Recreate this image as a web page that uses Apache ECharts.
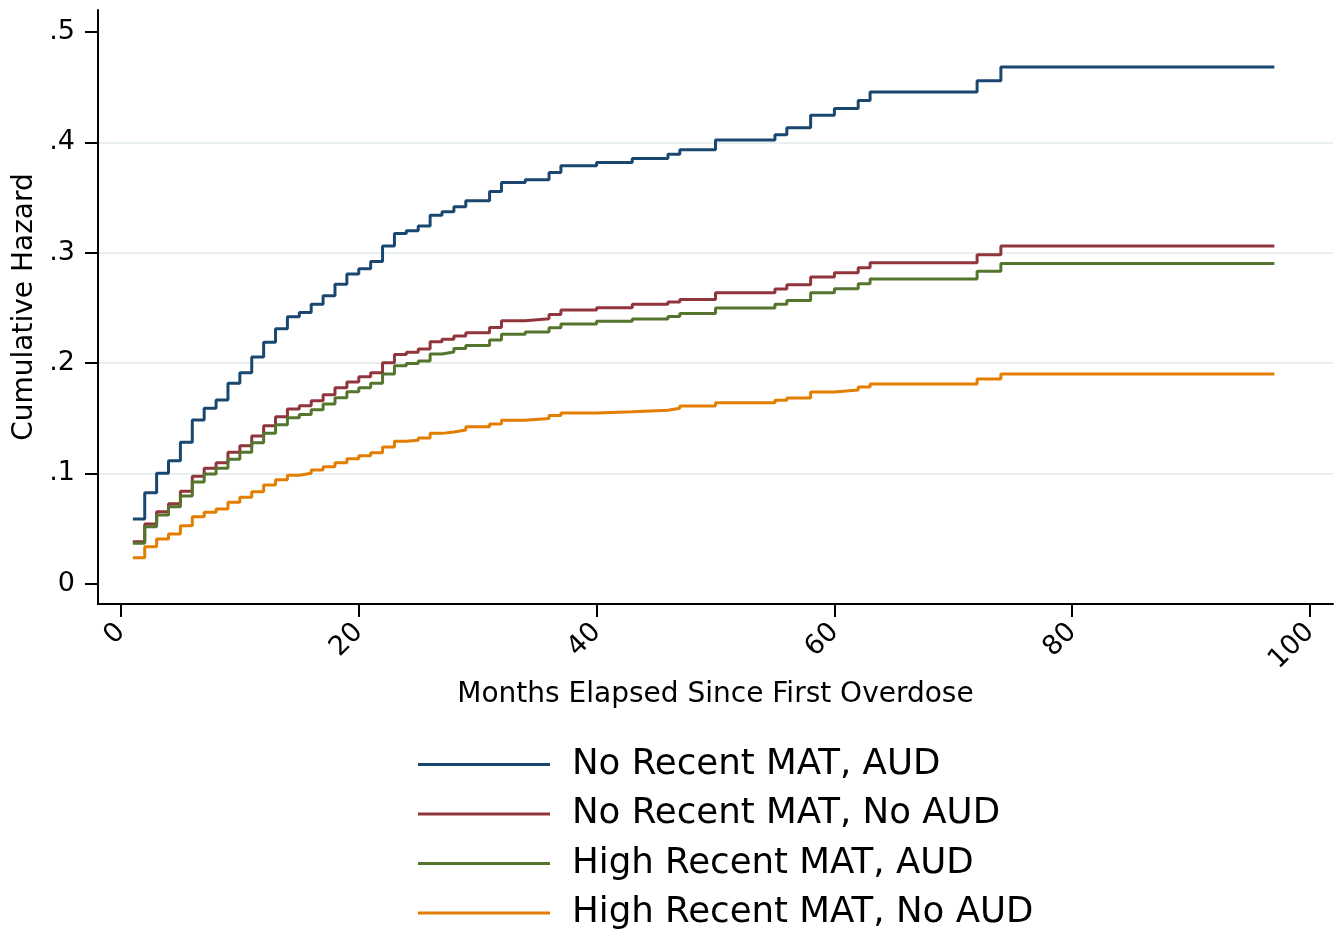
<!DOCTYPE html>
<html>
<head>
<meta charset="utf-8">
<script src="https://cdn.jsdelivr.net/npm/echarts@6/dist/echarts.min.js"></script>
<style>
html,body{margin:0;padding:0;background:#fff;}
#chart{width:1339px;height:931px;}
</style>
</head>
<body>
<div id="chart"></div>
<script>
const months = [1,2,3,4,5,6,7,8,9,10,11,12,13,14,15,16,17,18,19,20,21,22,23,24,25,26,27,28,29,
  31,32,34,36,37,40,43,46,47,50,55,56,58,60,62,63,72,74,97];

const seriesNames = ['No Recent MAT, AUD','No Recent MAT, No AUD','High Recent MAT, AUD','High Recent MAT, No AUD'];

const noMatAud = [0.0587,0.0825,0.1001,0.1115,0.1282,0.1484,0.1590,0.1665,0.1816,0.1912,0.2054,0.2188,0.2311,0.2419,0.2459,0.2534,0.2610,0.2713,0.2806,0.2854,0.2921,0.3060,0.3175,0.3198,0.3241,0.3340,0.3370,0.3416,0.3470,
  0.3555,0.3637,0.3660,0.3727,0.3787,0.3818,0.3854,0.3893,0.3932,0.4020,0.4068,0.4132,0.4246,0.4307,0.4378,0.4455,0.4559,0.4682,
  0.4682];

const noMatNoAud = [0.0381,0.0542,0.0653,0.0726,0.0838,0.0974,0.1046,0.1097,0.1191,0.1251,0.1339,0.1432,0.1514,0.1583,0.1613,0.1658,0.1713,0.1776,0.1828,0.1876,0.1912,0.2003,0.2077,0.2097,0.2127,0.2193,0.2215,0.2245,0.2274,
  0.2323,0.2383,0.2401,0.2441,0.2480,0.2501,0.2532,0.2553,0.2577,0.2637,0.2670,0.2709,0.2780,0.2819,0.2864,0.2909,0.2982,0.3060,
  0.3060];

const highMatAud = [0.0367,0.0517,0.0623,0.0698,0.0795,0.0922,0.0995,0.1046,0.1128,0.1191,0.1278,0.1363,0.1441,0.1505,0.1535,0.1577,0.1629,0.1686,0.1740,0.1776,0.1816,0.1900,0.1975,0.1997,0.2018,0.2082,0.2100,0.2133,0.2160,
  0.2208,0.2260,0.2281,0.2320,0.2353,0.2378,0.2399,0.2423,0.2450,0.2498,0.2534,0.2568,0.2638,0.2674,0.2719,0.2762,0.2831,0.2903,
  0.2903];

const highMatNoAud = [0.0236,0.0336,0.0406,0.0451,0.0526,0.0608,0.0648,0.0678,0.0738,0.0784,0.0834,0.0895,0.0943,0.0983,0.1001,0.1031,0.1061,0.1097,0.1133,0.1160,0.1188,0.1239,0.1291,0.1301,0.1321,0.1363,0.1375,0.1393,0.1423,
  0.1447,0.1481,0.1497,0.1526,0.1547,0.1559,0.1572,0.1590,0.1610,0.1640,0.1662,0.1683,0.1737,0.1755,0.1783,0.1810,0.1855,0.1902,
  0.1902];

const xTicks = [0,20,40,60,80,100];
const yTicks = [0,0.1,0.2,0.3,0.4,0.5];
const colors = ['#1a476f','#90353b','#55752f','#e37e00'];

const allValues = [noMatAud, noMatNoAud, highMatAud, highMatNoAud];
const FONT = 'DejaVu Sans';

const chart = echarts.init(document.getElementById('chart'), null, {renderer:'canvas'});
chart.setOption({
  animation:false,
  backgroundColor:'#ffffff',
  textStyle:{fontFamily:FONT,color:'#000'},
  grid:{left:98,right:6,top:10,bottom:327,containLabel:false,outerBoundsMode:'none'},
  xAxis:{
    type:'value', min:-1.93, max:101.93,
    name:'Months Elapsed Since First Overdose',
    nameLocation:'middle', nameGap:76,
    nameTextStyle:{fontFamily:FONT,fontSize:28,color:'#000'},
    axisLine:{show:true,onZero:false,lineStyle:{color:'#000',width:2}},
    axisTick:{show:true,inside:false,length:13,customValues:xTicks,lineStyle:{color:'#000',width:2}},
    axisLabel:{show:true,customValues:xTicks,rotate:45,margin:24,fontFamily:FONT,fontSize:27,color:'#000'},
    splitLine:{show:false}
  },
  yAxis:{
    type:'value', min:-0.0183, max:0.5199,
    name:'Cumulative Hazard',
    nameLocation:'middle', nameGap:59,
    nameTextStyle:{fontFamily:FONT,fontSize:28,color:'#000'},
    axisLine:{show:true,onZero:false,lineStyle:{color:'#000',width:2}},
    axisTick:{show:true,inside:false,length:13,customValues:yTicks,lineStyle:{color:'#000',width:2}},
    axisLabel:{show:true,customValues:yTicks,margin:23,fontFamily:FONT,fontSize:27,color:'#000',
      formatter:function(v){ return v===0 ? '0' : String(Math.round(v*10)/10).replace(/^0\./,'.'); }},
    splitLine:{show:true,showMinLine:false,showMaxLine:false,lineStyle:{color:'#e8eff1',width:2}}
  },
  legend:{
    orient:'vertical', left:418, top:746.5, height:200, padding:0,
    itemWidth:132, itemHeight:14, itemGap:13.5,
    data:seriesNames.map(function(n,i){return {name:n, icon:'path://M0,6 L132,6 L132,9 L0,9 Z', itemStyle:{color:colors[i]}};}),
    textStyle:{fontFamily:FONT,fontSize:35.6,color:'#000',lineHeight:36,padding:[0,0,0,17]}
  },
  series:seriesNames.map(function(n,i){
    return {
      name:n, type:'line', step:'end', showSymbol:false, symbol:'none',
      data:months.map(function(m,j){return [m, allValues[i][j]];}),
      lineStyle:{color:colors[i],width:3},
      itemStyle:{color:colors[i]},
      z:2+i
    };
  })
});
</script>
</body>
</html>
